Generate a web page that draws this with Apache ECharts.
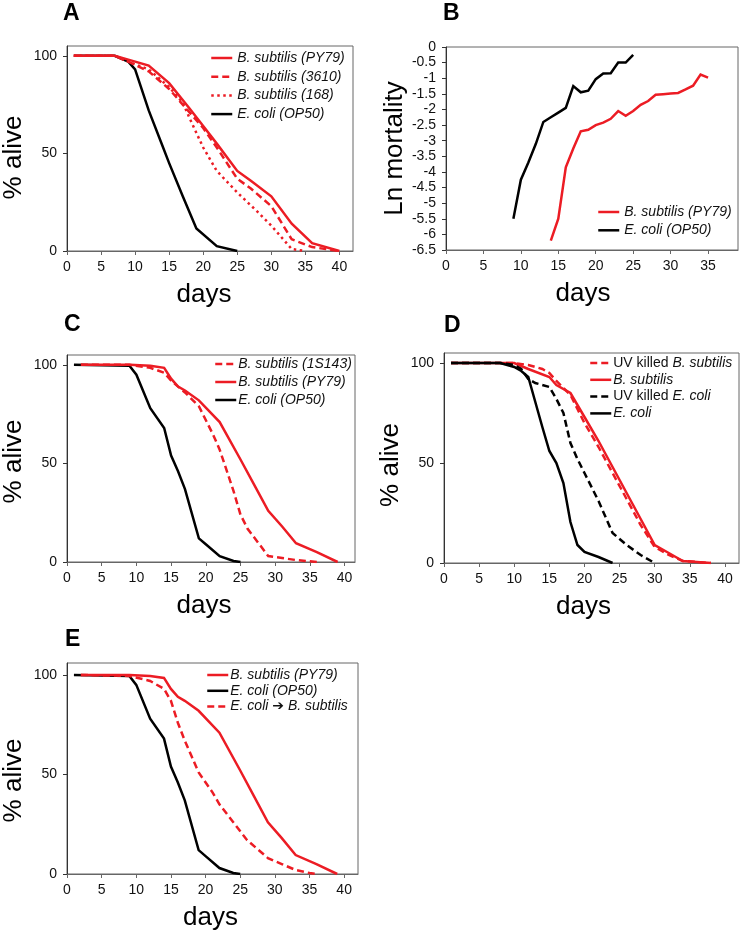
<!DOCTYPE html>
<html>
<head>
<meta charset="utf-8">
<script src="https://cdn.jsdelivr.net/npm/echarts@6/dist/echarts.min.js"></script>
<style>html,body{margin:0;padding:0;background:#fff;}#c{width:740px;height:938px;}</style>
</head>
<body>
<div id="c"></div>
<script>
// ---------- tick labels ----------
const pctXTicks = [0, 5, 10, 15, 20, 25, 30, 35, 40];
const pctYTicks = [0, 50, 100];
const lnXTicks = [0, 5, 10, 15, 20, 25, 30, 35];

// ---------- Panel A ----------
const A_PY79_days = [1, 7, 9, 12, 15, 18, 20, 22, 25, 27, 30, 33, 36, 40];
const A_PY79_alive = [100, 100, 98, 95, 86, 73, 64, 55, 41, 36, 28, 14, 4, 0];
const A_3610_days = [1, 7, 9, 12, 15, 18, 20, 22, 25, 27, 30, 33, 36, 38, 40];
const A_3610_alive = [100, 100, 97, 92, 83, 71, 63, 53, 37, 32, 23, 6, 2, 1, 0];
const A_168_days = [1, 7, 9, 12, 15, 17, 18, 20, 22, 25, 28, 30, 33, 35];
const A_168_alive = [100, 100, 97, 93, 84, 76, 68, 53, 41, 30, 20, 13, 1, 0];
const A_OP50_days = [1, 7, 9, 10, 12, 14, 15, 17, 19, 22, 25];
const A_OP50_alive = [100, 100, 97, 93, 72, 54, 45, 28, 11.5, 2.5, 0];

// ---------- Panel B ----------
const B_PY79_days = [14, 15, 16, 17, 18, 19, 20, 21, 22, 23, 24, 25, 26, 27, 28, 29, 30, 31, 32, 33, 34, 35];
const B_PY79_ln = [-6.2, -5.5, -3.85, -3.25, -2.7, -2.65, -2.5, -2.42, -2.3, -2.05, -2.2, -2.05, -1.85, -1.73, -1.53, -1.51, -1.49, -1.47, -1.36, -1.24, -0.88, -0.98];
const B_OP50_days = [9, 10, 11, 12, 13, 14, 15, 16, 17, 18, 19, 20, 21, 22, 23, 24, 25];
const B_OP50_ln = [-5.5, -4.25, -3.7, -3.1, -2.4, -2.25, -2.1, -1.95, -1.25, -1.45, -1.4, -1.03, -0.85, -0.84, -0.5, -0.5, -0.25];

// ---------- Panel C ----------
const C_1S143_days = [2, 9, 12, 14, 15, 17, 19, 21, 22, 24, 25, 26, 29, 31, 33, 36];
const C_1S143_alive = [100, 100, 98.5, 96, 92, 86, 79, 65, 57, 36, 24, 17, 3, 2, 1, 0];
const C_PY79_days = [2, 9, 12, 14, 15, 16, 17, 19, 22, 25, 27, 29, 31, 33, 36, 39];
const C_PY79_alive = [100, 100, 99.5, 98.5, 93, 89, 87, 82, 71, 52, 39, 26, 18, 9.5, 5, 0];
const C_OP50_days = [1, 9, 10, 12, 14, 15, 16, 17, 19, 20, 22, 24, 25];
const C_OP50_alive = [100, 99.5, 95, 78, 68, 54, 46, 37, 12, 9, 3, 0.5, 0];

// ---------- Panel D ----------
const D_UVBs_days = [1, 10, 12, 14, 15, 16, 18, 19, 20, 22, 24, 26, 28, 30, 32, 34, 36, 38];
const D_UVBs_alive = [100, 100, 99, 97, 95, 91, 84, 77, 70, 58, 45, 32, 19, 8, 4, 1, 0.5, 0];
const D_Bs_days = [1, 10, 12, 15, 16, 18, 19, 20, 22, 24, 26, 28, 30, 32, 34, 36, 38];
const D_Bs_alive = [100, 100, 97, 93, 89, 85, 79, 73, 61, 48, 35, 22, 9, 5, 1, 0.5, 0];
const D_UVEc_days = [1, 8, 10, 11, 12, 13, 15, 16, 17, 18, 19, 20, 22, 24, 26, 28, 30];
const D_UVEc_alive = [100, 100, 99, 97, 92, 90, 88, 82, 75, 60, 52, 45, 31, 15, 9, 4, 0];
const D_Ec_days = [1, 8, 10, 11, 12, 13, 14, 15, 16, 17, 18, 19, 20, 22, 24];
const D_Ec_alive = [100, 100, 98, 96, 93, 80.5, 68, 56, 50, 40, 20.5, 9, 5.5, 3, 0];

// ---------- Panel E ----------
const E_PY79_days = [2, 9, 12, 14, 15, 16, 17, 19, 22, 25, 27, 29, 31, 33, 36, 39];
const E_PY79_alive = [100, 100, 99.5, 98.5, 93, 89, 87, 82, 71, 52, 39, 26, 18, 9.5, 5, 0];
const E_OP50_days = [1, 9, 10, 12, 14, 15, 16, 17, 19, 20, 22, 24, 25];
const E_OP50_alive = [100, 99.5, 95, 78, 68, 54, 46, 37, 12, 9, 3, 0.5, 0];
const E_EcBs_days = [2, 9, 12, 14, 15, 16, 17, 18, 19, 21, 22, 24, 26, 29, 31, 33, 35, 36];
const E_EcBs_alive = [100, 99.5, 97, 93, 87, 76, 67, 59, 51, 41, 35, 26, 17, 8, 5, 2, 0.5, 0];

// ---------- names ----------
const N_PY79 = 'B. subtilis (PY79)', N_3610 = 'B. subtilis (3610)', N_168 = 'B. subtilis (168)';
const N_OP50 = 'E. coli (OP50)', N_1S143 = 'B. subtilis (1S143)';
const N_UVBs = 'UV killed B. subtilis', N_Bs = 'B. subtilis', N_UVEc = 'UV killed E. coli', N_Ec = 'E. coli';
const N_EcBs = 'E. coli \u2794 B. subtilis';

const F = '"Liberation Sans", Arial, sans-serif';
const RED = '#ec1c24', BLK = '#000000';
const zip = (xs, ys) => xs.map((x, i) => [x, ys[i]]);

function line(name, gi, xs, ys, color, type) {
  return {
    name, type: 'line', xAxisIndex: gi, yAxisIndex: gi, data: zip(xs, ys),
    symbol: 'none', showSymbol: false, animation: false, silent: true,
    lineStyle: { color, width: 2.5, type: type || 'solid', cap: 'butt', join: 'miter' },
    itemStyle: { color }
  };
}

const grids = [
  { left: 65, top: 46, width: 288, height: 205 },
  { left: 446, top: 47, width: 292, height: 203 },
  { left: 62, top: 355, width: 293, height: 207 },
  { left: 444, top: 353, width: 295, height: 210 },
  { left: 61, top: 663, width: 297, height: 211 }
].map(g => Object.assign({ show: true, borderColor: '#666', borderWidth: 1, containLabel: false }, g));

function xAx(gi, max, ticks, shift) {
  return {
    gridIndex: gi, type: 'value', min: 0, max,
    name: 'days', nameLocation: 'middle', nameGap: 31,
    nameTextStyle: { fontSize: 26, fontFamily: F, color: '#000', padding: [0, 2 * shift, 0, 0] },
    axisLine: { show: true, onZero: false, lineStyle: { color: '#666', width: 1 } },
    axisTick: { show: true, inside: false, length: 4, lineStyle: { color: '#666' }, customValues: ticks },
    axisLabel: { customValues: ticks, fontSize: 14, fontFamily: F, color: '#111', margin: 9 },
    splitLine: { show: false }
  };
}
function yAxPct(gi, max, shift) {
  return {
    gridIndex: gi, type: 'value', min: 0, max,
    name: '% alive', nameLocation: 'middle', nameGap: 40,
    nameTextStyle: { fontSize: 26, fontFamily: F, color: '#000', padding: [0, 2 * shift, 0, 0] },
    axisLine: { show: true, onZero: false, lineStyle: { color: '#333', width: 1 } },
    axisTick: { show: true, inside: false, length: 4, lineStyle: { color: '#333' }, customValues: pctYTicks },
    axisLabel: { customValues: pctYTicks, fontSize: 14, fontFamily: F, color: '#111', margin: 10 },
    splitLine: { show: false }
  };
}

const xAxis = [
  xAx(0, 42, pctXTicks, 6),
  xAx(1, 39, lnXTicks, 9),
  xAx(2, 41.5, pctXTicks, 7),
  xAx(3, 42, pctXTicks, 8),
  xAx(4, 42, pctXTicks, 2)
];
const yAxis = [
  yAxPct(0, 105, 9),
  {
    gridIndex: 1, type: 'value', min: -6.5, max: 0, interval: 0.5,
    name: 'Ln mortality', nameLocation: 'middle', nameGap: 38,
    nameTextStyle: { fontSize: 26, fontFamily: F, color: '#000' },
    axisLine: { show: true, onZero: false, lineStyle: { color: '#333', width: 1 } },
    axisTick: { show: true, inside: false, length: 4, lineStyle: { color: '#333' } },
    axisLabel: { fontSize: 14, fontFamily: F, color: '#111', margin: 10, formatter: v => String(v) },
    splitLine: { show: false }
  },
  yAxPct(2, 105, 3),
  yAxPct(3, 105, 7),
  yAxPct(4, 106, 12)
];

const series = [
  // A
  line(N_OP50, 0, A_OP50_days, A_OP50_alive, BLK),
  line(N_168, 0, A_168_days, A_168_alive, RED, [2.5, 3.5]),
  line(N_3610, 0, A_3610_days, A_3610_alive, RED, [7, 4]),
  line(N_PY79, 0, A_PY79_days, A_PY79_alive, RED),
  // B
  line(N_PY79, 1, B_PY79_days, B_PY79_ln, RED),
  line(N_OP50, 1, B_OP50_days, B_OP50_ln, BLK),
  // C
  line(N_OP50, 2, C_OP50_days, C_OP50_alive, BLK),
  line(N_1S143, 2, C_1S143_days, C_1S143_alive, RED, [7, 4]),
  line(N_PY79, 2, C_PY79_days, C_PY79_alive, RED),
  // D
  line(N_UVBs, 3, D_UVBs_days, D_UVBs_alive, RED, [7, 4]),
  line(N_Bs, 3, D_Bs_days, D_Bs_alive, RED),
  line(N_UVEc, 3, D_UVEc_days, D_UVEc_alive, BLK, [7, 4]),
  line(N_Ec, 3, D_Ec_days, D_Ec_alive, BLK),
  // E
  line(N_OP50, 4, E_OP50_days, E_OP50_alive, BLK),
  line(N_EcBs, 4, E_EcBs_days, E_EcBs_alive, RED, [7, 4]),
  line(N_PY79, 4, E_PY79_days, E_PY79_alive, RED)
];

const legTxt = { fontStyle: 'italic', fontSize: 14, fontFamily: F, color: '#111' };
function leg(left, top, gap, names, extra, tight) {
  const o = Object.assign({
    left, top, orient: 'vertical', padding: 0, itemWidth: 21, itemHeight: 14, itemGap: gap,
    data: names, selectedMode: false, textStyle: Object.assign({}, legTxt),
    itemStyle: { opacity: 0, borderWidth: 0 },
    lineStyle: { width: 2.5 }
  }, extra || {});
  if (tight) o.textStyle.padding = [0, 0, 0, -3];
  return o;
}
const legend = [
  leg(210, 51, 4.7, [N_PY79, N_3610, N_168, N_OP50]),
  leg(597, 205, 4.3, [N_PY79, N_OP50]),
  leg(214, 357, 4, [N_1S143, N_PY79, N_OP50], null, true),
  leg(589, 356, 2.8, [N_UVBs, N_Bs, N_UVEc, N_Ec], {
    formatter: n => n.startsWith('UV killed ') ? 'UV killed {i|' + n.slice(10) + '}' : '{i|' + n + '}',
    textStyle: { fontStyle: 'normal', fontSize: 14, fontFamily: F, color: '#111',
      rich: { i: { fontStyle: 'italic', fontSize: 14, fontFamily: F, color: '#111' } } }
  }, true),
  leg(206, 668, 1.8, [N_PY79, N_OP50, N_EcBs], {
    formatter: n => n === N_EcBs ? '{i|E. coli} {a|\u2794} {i|B. subtilis}' : '{i|' + n + '}',
    textStyle: { fontStyle: 'normal', fontSize: 14, fontFamily: F, color: '#111',
      rich: { i: { fontStyle: 'italic', fontSize: 14, fontFamily: F, color: '#111' },
              a: { fontSize: 14, fontWeight: 'bold', fontFamily: '"DejaVu Sans", sans-serif', color: '#111' } } }
  }, true)
];

const lt = { fontSize: 23, fontWeight: 'bold', fontFamily: F, color: '#000' };
const title = [
  { text: 'A', left: 63, top: 2, padding: 0, textStyle: lt },
  { text: 'B', left: 443, top: 2, padding: 0, textStyle: lt },
  { text: 'C', left: 64, top: 313, padding: 0, textStyle: lt },
  { text: 'D', left: 444, top: 314, padding: 0, textStyle: lt },
  { text: 'E', left: 65, top: 628, padding: 0, textStyle: lt }
];

const chart = echarts.init(document.getElementById('c'), null, { renderer: 'canvas' });
chart.setOption({ animation: false, backgroundColor: '#fff', title, legend, grid: grids, xAxis, yAxis, series });
</script>
</body>
</html>
